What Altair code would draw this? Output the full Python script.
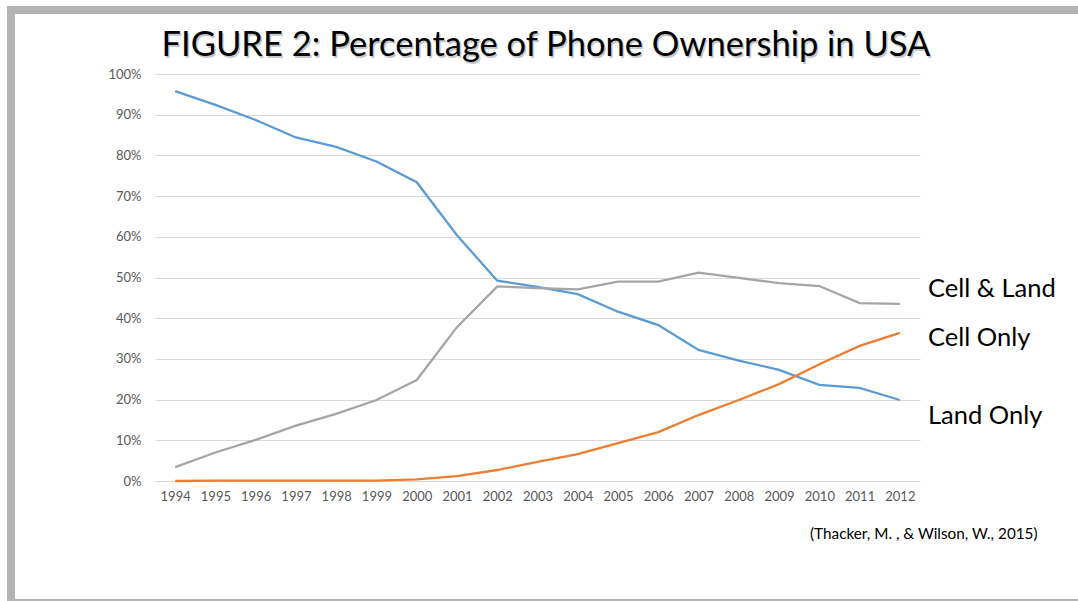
import altair as alt
import pandas as pd

# Survey years
years = ["1994", "1995", "1996", "1997", "1998", "1999", "2000", "2001", "2002", "2003",
         "2004", "2005", "2006", "2007", "2008", "2009", "2010", "2011", "2012"]

# Share of US households (%) by type of phone service
land_only = [95.8, 92.4, 88.7, 84.4, 82.1, 78.5, 73.4, 60.4, 49.2, 47.7,
             45.9, 41.6, 38.3, 32.2, 29.6, 27.3, 23.6, 22.9, 19.9]
cell_only = [0.0, 0.1, 0.1, 0.1, 0.1, 0.1, 0.4, 1.2, 2.7, 4.7,
             6.6, 9.3, 12.0, 16.2, 19.9, 23.8, 28.7, 33.2, 36.4]
cell_and_land = [3.4, 7.0, 10.1, 13.6, 16.5, 19.9, 24.8, 37.8, 47.8, 47.4,
                 47.1, 49.0, 49.0, 51.2, 49.9, 48.6, 47.9, 43.7, 43.5]

series_names = ["Land Only", "Cell Only", "Cell & Land"]
series_colors = ["#5b9bd5", "#ed7d31", "#a5a5a5"]

title_text = "FIGURE 2: Percentage of Phone Ownership in USA"
source_text = "(Thacker, M. , & Wilson, W., 2015)"

rows = []
for name, vals in zip(series_names, [land_only, cell_only, cell_and_land]):
    for yr, v in zip(years, vals):
        rows.append({"year": yr, "pct": v, "series": name})
df = pd.DataFrame(rows)

PLOT_W, PLOT_H = 765, 407
LEFT, TOP = 155, 74
FONT = "Lato"

x_enc = alt.X("year:O", sort=years, scale=alt.Scale(type="point", padding=0.5),
              axis=alt.Axis(title=None, labelAngle=0, labelFont=FONT, labelFontSize=13,
                            labelColor="#595959", ticks=False, domain=False,
                            labelPadding=9, grid=False))
y_enc = alt.Y("pct:Q", scale=alt.Scale(domain=[0, 100], nice=False),
              axis=alt.Axis(title=None, values=list(range(0, 101, 10)),
                            labelExpr="datum.value + '%'", labelFont=FONT,
                            labelFontSize=13, labelColor="#595959", ticks=False,
                            domain=False, labelPadding=14, gridColor="#d9d9d9",
                            gridWidth=1))

lines = alt.Chart(df).mark_line(strokeWidth=2.3, interpolate="linear").encode(
    x=x_enc,
    y=y_enc,
    color=alt.Color("series:N", scale=alt.Scale(domain=series_names, range=series_colors),
                    legend=None),
    detail="series:N",
)

# Series labels at the right of the plot, placed on the percentage scale
label_df = pd.DataFrame({
    "text": ["Cell & Land", "Cell Only", "Land Only"],
    "pct": [47.2, 35.1, 16.0],
})
labels = alt.Chart(label_df).mark_text(
    align="left", baseline="middle", font=FONT, fontSize=25.5, color="#000000"
).encode(
    x=alt.value(928 - LEFT),
    y=y_enc,
    text="text:N",
)

title_df = pd.DataFrame({"t": [title_text]})
title_shadow = alt.Chart(title_df).mark_text(
    align="center", baseline="middle", font=FONT, fontSize=34.5, color="#c8c8c8"
).encode(x=alt.value(547.5 - LEFT), y=alt.value(47.5 - TOP), text="t:N")
title = alt.Chart(title_df).mark_text(
    align="center", baseline="middle", font=FONT, fontSize=34.5, color="#000000"
).encode(x=alt.value(546 - LEFT), y=alt.value(46 - TOP), text="t:N")

source = alt.Chart(pd.DataFrame({"t": [source_text]})).mark_text(
    align="left", baseline="middle", font=FONT, fontSize=15.3, color="#000000"
).encode(x=alt.value(810 - LEFT), y=alt.value(534 - TOP), text="t:N")

# Slide frame: grey band along the top and left, thin line at the bottom
frame_df = pd.DataFrame({"k": [0]})
frame_top = alt.Chart(frame_df).mark_rect(color="#b4b4b4").encode(
    x=alt.value(7 - LEFT), x2=alt.value(1078 - LEFT),
    y=alt.value(6 - TOP), y2=alt.value(14 - TOP))
frame_left = alt.Chart(frame_df).mark_rect(color="#b4b4b4").encode(
    x=alt.value(7 - LEFT), x2=alt.value(15 - LEFT),
    y=alt.value(6 - TOP), y2=alt.value(601 - TOP))
frame_bottom = alt.Chart(frame_df).mark_rect(color="#b4b4b4").encode(
    x=alt.value(7 - LEFT), x2=alt.value(1078 - LEFT),
    y=alt.value(599 - TOP), y2=alt.value(601 - TOP))

chart = alt.layer(
    lines, labels, title_shadow, title, source, frame_top, frame_left, frame_bottom
).properties(
    width=PLOT_W,
    height=PLOT_H,
    autosize=alt.AutoSizeParams(type="none"),
    padding={"left": LEFT, "top": TOP, "right": 1078 - LEFT - PLOT_W,
             "bottom": 601 - TOP - PLOT_H},
    background="#ffffff",
).configure_view(stroke=None)

chart.save("out.html", embed_options={"renderer": "svg", "actions": False})
